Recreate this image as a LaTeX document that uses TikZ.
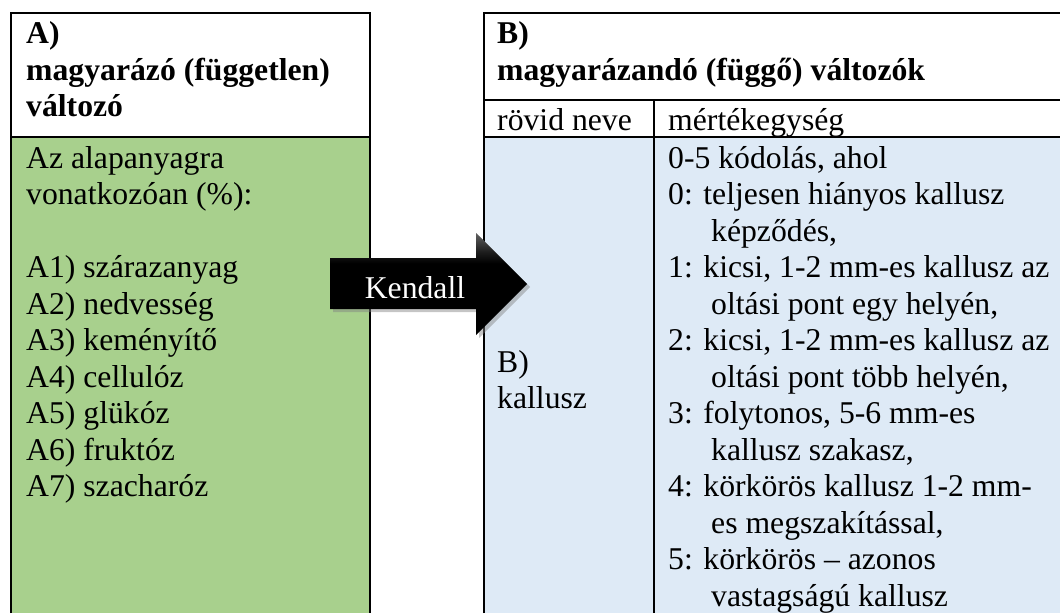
\documentclass[tikz,border=0pt]{standalone}
\usepackage{fontspec}
\setmainfont{Liberation Serif}
\usepackage{tikz}
\usetikzlibrary{shadows}
\definecolor{valgreen}{HTML}{A8D08D}
\definecolor{valblue}{HTML}{DEEAF6}
\pgfdeclareverticalshading{arrowshade}{100bp}{color(0bp)=(black); color(25bp)=(black);
    color(60bp)=(black); color(66bp)=(black!88); color(75bp)=(black!62); color(100bp)=(black!62)}

\begin{document}
\begin{tikzpicture}[x=1pt,y=-1pt,
    txt/.style={anchor=base west,inner sep=0pt,font=\fontsize{31.7}{36.5}\selectfont},
    head/.style={txt,font=\fontsize{31.7}{36.5}\selectfont\bfseries},
    rule/.style={line width=1.3pt}]
    \useasboundingbox[fill=white] (0,0) rectangle (1060,613);
    % cell backgrounds
    \fill[valgreen] (11,137) rectangle (370,613);
    \fill[valblue] (484,137) rectangle (1060,613);
    % table A
    \draw[rule] (11,613) -- (11,13) -- (370,13) -- (370,613);
    \draw[rule] (11,137) -- (370,137);
    % table B
    \draw[rule] (484,613) -- (484,13) -- (1060,13);
    \draw[rule] (484,100) -- (1060,100);
    \draw[rule] (484,137) -- (1060,137);
    \draw[rule] (654,100) -- (654,613);
    % headers
    \node[head] (ahead1) at (26,43) {A)};
    \node[head] (ahead2) at (26,80) {magyarázó (független)};
    \node[head] (ahead3) at (26,116.5) {változó};
    \node[head] (bhead1) at (497,43) {B)};
    \node[head] (bhead2) at (497,80) {magyarázandó (függő) változók};
    \node[txt] (rovid) at (497,130) {rövid neve};
    \node[txt] (mertek) at (668,130) {mértékegység};
    % column A
    \foreach \t [count=\i] in {Az alapanyagra, vonatkozóan (\%):, {}, A1) szárazanyag,
        A2) nedvesség, A3) keményítő, A4) cellulóz, A5) glükóz, A6) fruktóz, A7) szacharóz}
        \node[txt] (a\i) at (26,{168+(\i-1)*36.5}) {\t};
    % column B
    \node[txt] (bname1) at (497,372) {B)};
    \node[txt] (bname2) at (497,408) {kallusz};
    \foreach \x/\t [count=\i] in {668/{0-5 kódolás, ahol}, 668/{0: teljesen hiányos kallusz},
        711/{képződés,}, 668/{1: kicsi, 1-2 mm-es kallusz az}, 711/{oltási pont egy helyén,},
        668/{2: kicsi, 1-2 mm-es kallusz az}, 711/{oltási pont több helyén,},
        668/{3: folytonos, 5-6 mm-es}, 711/{kallusz szakasz,},
        668/{4: körkörös kallusz 1-2 mm-}, 711/{es megszakítással,},
        668/{5: körkörös – azonos}, 711/{vastagságú kallusz}}
        \node[txt] (b\i) at (\x,{168+(\i-1)*36.5}) {\t};
    % arrow
    \path[shading=arrowshade,
        drop shadow={shadow xshift=3pt,shadow yshift=-3pt,opacity=.45}]
        (330,258) -- (476,258) -- (476,233) -- (527,284) -- (476,335) -- (476,309) -- (330,309) -- cycle;
    \node[txt,anchor=base,text=white] (kendall) at (415,298) {Kendall};
\end{tikzpicture}
\end{document}
